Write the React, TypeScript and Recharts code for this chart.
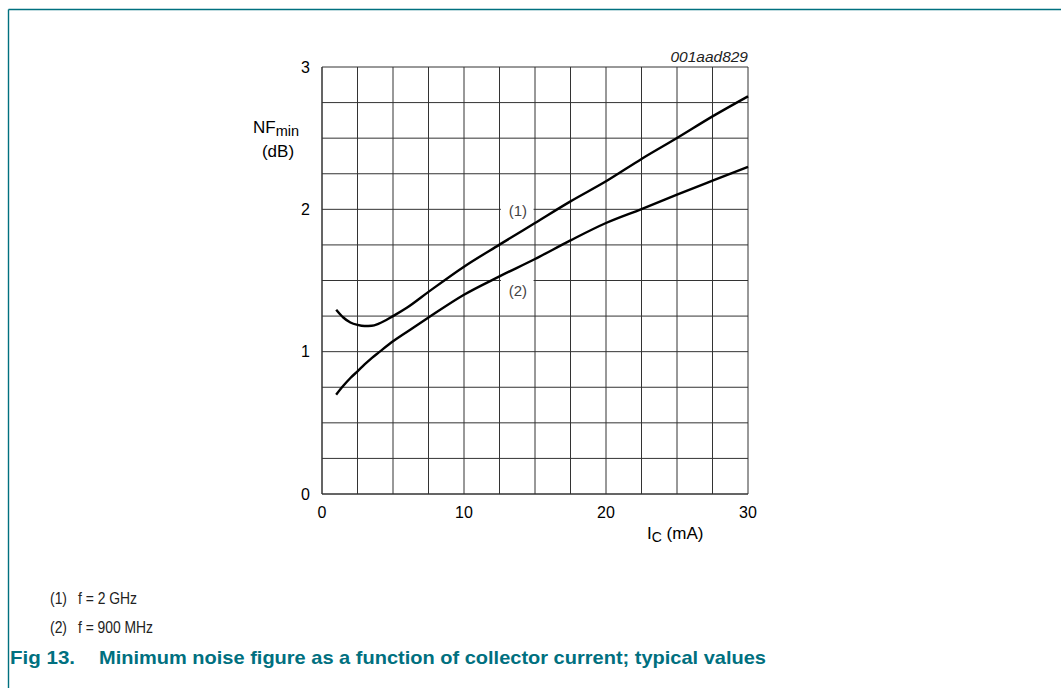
import React from 'react';
import { LineChart, Line, XAxis, YAxis, CartesianGrid, ReferenceArea, ReferenceDot } from 'recharts';

const currentMA = [1, 1.5, 2, 2.5, 3, 3.5, 4, 5, 6, 7.5, 10, 12.5, 15, 17.5, 20, 22.5, 25, 27.5, 30];
const nf2GHz = [1.295, 1.24, 1.205, 1.188, 1.18, 1.182, 1.197, 1.25, 1.31, 1.42, 1.597, 1.752, 1.904, 2.056, 2.197, 2.354, 2.501, 2.653, 2.794];
const nf900MHz = [0.698, 0.76, 0.815, 0.862, 0.91, 0.955, 0.995, 1.073, 1.14, 1.24, 1.4, 1.529, 1.651, 1.782, 1.904, 2.002, 2.103, 2.201, 2.298];
const xTicks = [0, 2.5, 5, 7.5, 10, 12.5, 15, 17.5, 20, 22.5, 25, 27.5, 30];
const yTicks = [0, 0.25, 0.5, 0.75, 1, 1.25, 1.5, 1.75, 2, 2.25, 2.5, 2.75, 3];
const curveLabels = ['(1)', '(2)'];
const legendItems = ['f = 2 GHz', 'f = 900 MHz'];

const data = currentMA.map((x, i) => ({ x, nf1: nf2GHz[i], nf2: nf900MHz[i] }));

const FONT = "'Liberation Sans', Arial, Helvetica, sans-serif";
const TEAL = '#00707f';

export default function App() {
  return (
    <div style={{ position: 'absolute', left: 0, top: 0, width: 1061, height: 688, background: '#fff', overflow: 'hidden' }}>
      <LineChart width={1061} height={688} data={data} margin={{ top: 67, right: 313, bottom: 164, left: 262 }}>
        <CartesianGrid stroke="#333" strokeWidth={1} />
        <XAxis
          type="number"
          dataKey="x"
          domain={[0, 30]}
          ticks={xTicks}
          height={30}
          tickLine={false}
          tickSize={0}
          tickMargin={13}
          axisLine={{ stroke: '#333' }}
          tick={{ fontSize: 16, fill: '#000', fontFamily: FONT }}
          tickFormatter={(v: number) => (v % 10 === 0 ? String(v) : '')}
          interval={0}
        />
        <YAxis
          type="number"
          domain={[0, 3]}
          ticks={yTicks}
          width={60}
          tickLine={false}
          tickSize={0}
          tickMargin={12}
          axisLine={{ stroke: '#333' }}
          tick={{ fontSize: 16, fill: '#000', fontFamily: FONT }}
          tickFormatter={(v: number) => (v % 1 === 0 ? String(v) : '')}
          interval={0}
        />
        <ReferenceArea x1={12.6} x2={14.9} y1={1.975} y2={2.025} fill="#fff" fillOpacity={1} stroke="none" />
        <ReferenceArea x1={12.6} x2={14.9} y1={1.475} y2={1.525} fill="#fff" fillOpacity={1} stroke="none" />
        <ReferenceDot x={13.8} y={1.99} r={0} fill="none" stroke="none"
          label={{ value: curveLabels[0], position: 'center', fill: '#444', fontSize: 15, fontFamily: FONT }} />
        <ReferenceDot x={13.8} y={1.43} r={0} fill="none" stroke="none"
          label={{ value: curveLabels[1], position: 'center', fill: '#444', fontSize: 15, fontFamily: FONT }} />
        <Line type="monotone" dataKey="nf1" stroke="#000" strokeWidth={2.4} dot={false} isAnimationActive={false} />
        <Line type="monotone" dataKey="nf2" stroke="#000" strokeWidth={2.4} dot={false} isAnimationActive={false} />
      </LineChart>
      <svg width={1061} height={688} style={{ position: 'absolute', left: 0, top: 0, pointerEvents: 'none' }}>
        <line x1={8.5} y1={9.5} x2={1061} y2={9.5} stroke={TEAL} strokeWidth={1.4} />
        <line x1={8.5} y1={9.5} x2={8.5} y2={688} stroke={TEAL} strokeWidth={1.4} />
        <text x={748} y={62} textAnchor="end" fontStyle="italic" fontSize={15.5} fontFamily={FONT} fill="#222">001aad829</text>
        <text x={253} y={133} fontSize={17} fontFamily={FONT} fill="#000">
          NF<tspan fontSize={14.5} dy={3}>min</tspan>
        </text>
        <text x={278} y={157} textAnchor="middle" fontSize={17} fontFamily={FONT} fill="#000">(dB)</text>
        <text x={647} y={539} fontSize={17} fontFamily={FONT} fill="#000">
          I<tspan fontSize={14} dy={3}>C</tspan><tspan dy={-3}> (mA)</tspan>
        </text>
        <text x={50} y={604} fontSize={17} fontFamily={FONT} fill="#222" textLength={17} lengthAdjust="spacingAndGlyphs">{curveLabels[0]}</text>
        <text x={78} y={604} fontSize={17} fontFamily={FONT} fill="#222" textLength={59} lengthAdjust="spacingAndGlyphs">{legendItems[0]}</text>
        <text x={50} y={633} fontSize={17} fontFamily={FONT} fill="#222" textLength={17} lengthAdjust="spacingAndGlyphs">{curveLabels[1]}</text>
        <text x={78} y={633} fontSize={17} fontFamily={FONT} fill="#222" textLength={75} lengthAdjust="spacingAndGlyphs">{legendItems[1]}</text>
        <text x={10} y={664} fontSize={18.5} fontWeight="bold" fontFamily={FONT} fill={TEAL} textLength={65} lengthAdjust="spacingAndGlyphs">Fig 13.</text>
        <text x={99} y={664} fontSize={18.5} fontWeight="bold" fontFamily={FONT} fill={TEAL} textLength={667} lengthAdjust="spacingAndGlyphs">Minimum noise figure as a function of collector current; typical values</text>
      </svg>
    </div>
  );
}
